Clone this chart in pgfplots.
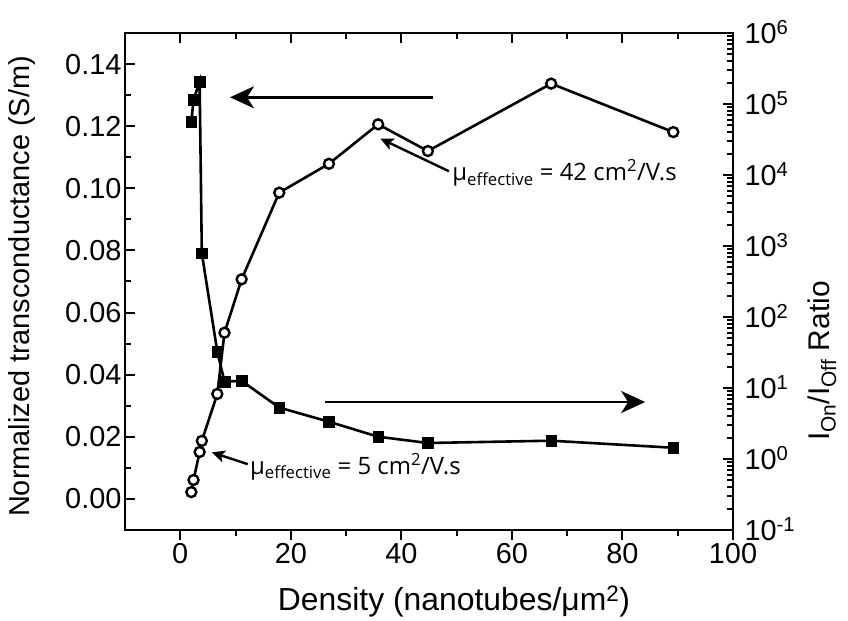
\documentclass[border=0pt]{standalone}
\usepackage{fontspec}
\setmainfont{Liberation Sans}
\newfontfamily\annfont{Open Sans}
\usepackage{pgfplots}
\usepackage{pgfplotstable}
\pgfplotsset{compat=1.18}
\usetikzlibrary{arrows.meta}

% normalized transconductance (S/m) against network density
\pgfplotstableread{
x     g
2.0   0.0022
2.4   0.0061
3.5   0.0151
3.9   0.0187
6.7   0.0338
8.0   0.0535
11.1  0.0707
17.9  0.0986
26.9  0.1079
35.8  0.1206
44.8  0.1120
67.1  0.1337
89.2  0.1181
}\gmtable

% on/off current ratio against network density
\pgfplotstableread{
x     r
2.0   5.6e4
2.4   1.14e5
3.5   2.06e5
3.9   790
6.7   32.5
8.0   12.3
11.1  12.6
17.9  5.3
26.9  3.35
35.8  2.06
44.8  1.68
67.1  1.81
89.2  1.44
}\rtable

\pgfplotsset{
  base/.style={
    scale only axis, width=608bp, height=497bp,
    xmin=-10, xmax=100,
    xtick={0,20,40,60,80,100}, minor x tick num=1,
    axis line style={line width=2.8bp, -, line cap=rect},
    major tick length=10bp, minor tick length=6bp,
    tick style={line width=2bp, black},
    tick label style={font=\fontsize{29}{33}\selectfont},
    label style={font=\fontsize{29}{33}\selectfont},
  },
}

\begin{document}
\begin{tikzpicture}
\begin{axis}[base, name=main,
  axis x line*=bottom, axis y line*=left,
  xtick align=outside, ytick align=inside,
  ymin=-0.01, ymax=0.15,
  ytick={0,0.02,0.04,0.06,0.08,0.10,0.12,0.14}, minor y tick num=1,
  scaled y ticks=false,
  yticklabel style={/pgf/number format/.cd, fixed, fixed zerofill, precision=2, assume math mode=true},
  xticklabel style={/pgf/number format/assume math mode=true},
  xlabel={Density (nanotubes/μm\textsuperscript{2})},
  ylabel={Normalized transconductance (S/m)},
  xlabel style={at={(axis description cs:0.541,-0.161)}, anchor=base, font=\fontsize{32}{36}\selectfont},
  ylabel style={at={(axis description cs:-0.1694,0.49)}, anchor=center},
]
\addplot[black, line width=2.6bp, mark=*, mark size=5bp,
  mark options={fill=white, line width=2.4bp}] table[x=x, y=g]{\gmtable};

% direction arrows pointing to each series' axis
\draw[line width=2.5bp, -{Stealth[length=24bp, width=22bp, inset=7bp]}]
  (axis cs:45.75,0.1293) -- (axis cs:9.0,0.1293);
\draw[line width=2.5bp, -{Stealth[length=24bp, width=22bp, inset=7bp]}]
  (axis cs:26.2,0.0312) -- (axis cs:84.1,0.0312);

% mobility annotations
\draw[line width=2.4bp, -{Stealth[length=13bp, width=12bp, inset=3bp]}]
  (axis cs:48.6,0.1055) -- (axis cs:36.2,0.1160);
\node[anchor=base west, inner sep=0, font=\annfont\fontsize{24}{28}\selectfont]
  at (axis cs:49.2,0.1024) {μ\textsubscript{effective} = 42 cm\textsuperscript{2}/V.s};
\draw[line width=2.4bp, -{Stealth[length=13bp, width=12bp, inset=3bp]}]
  (axis cs:12.2,0.0112) -- (axis cs:5.7,0.0150);
\node[anchor=base west, inner sep=0, font=\annfont\fontsize{24}{28}\selectfont]
  at (axis cs:12.6,0.0078) {μ\textsubscript{effective} = 5 cm\textsuperscript{2}/V.s};
\end{axis}

\begin{axis}[base,
  axis x line*=top, axis y line*=right,
  xtick align=inside, ytick align=inside,
  xticklabels={},
  ymode=log, ymin=0.1, ymax=1e6,
  ytick={0.1,1,10,100,1000,10000,100000,1000000},
  yticklabels={10\textsuperscript{-1},10\textsuperscript{0},10\textsuperscript{1},10\textsuperscript{2},10\textsuperscript{3},10\textsuperscript{4},10\textsuperscript{5},10\textsuperscript{6}},
  minor ytick={0.2,0.3,0.4,0.5,0.6,0.7,0.8,0.9,
    2,3,4,5,6,7,8,9,
    20,30,40,50,60,70,80,90,
    200,300,400,500,600,700,800,900,
    2000,3000,4000,5000,6000,7000,8000,9000,
    20000,30000,40000,50000,60000,70000,80000,90000,
    200000,300000,400000,500000,600000,700000,800000,900000},
  yticklabel style={anchor=west, xshift=8bp, yshift=1bp},
  ylabel={I\textsubscript{On}/I\textsubscript{Off} Ratio},
  ylabel style={at={(axis description cs:1.1464,0.34)}, anchor=center, font=\fontsize{30}{34}\selectfont},
]
\addplot[black, line width=2.6bp, mark=square*, mark size=5.4bp,
  mark options={line width=0.5bp}] table[x=x, y=r]{\rtable};
\end{axis}

\pgfresetboundingbox
\path ([shift={(-125bp,-91bp)}]main.south west) rectangle ([shift={(723bp,530bp)}]main.south west);
\end{tikzpicture}
\end{document}
